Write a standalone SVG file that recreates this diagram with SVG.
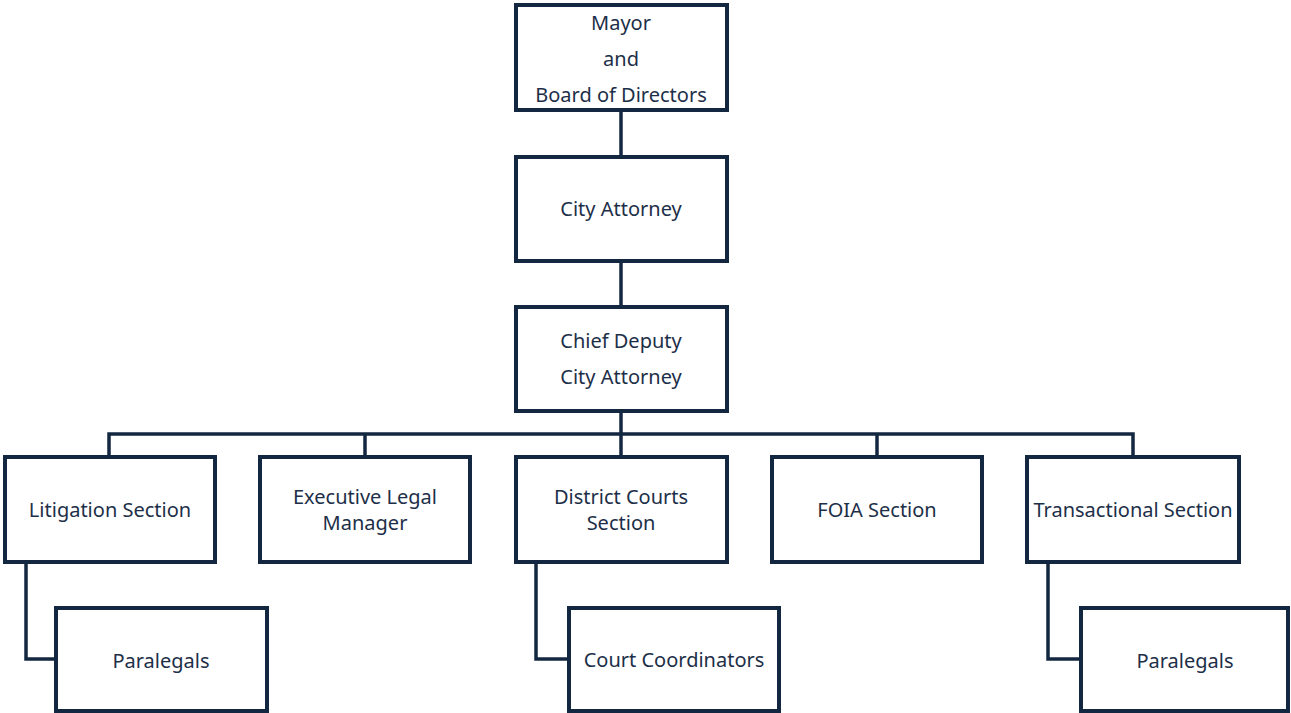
<svg xmlns="http://www.w3.org/2000/svg" width="1291" height="713" viewBox="0 0 1291 713">
  <style>
    .box { fill: #ffffff; stroke: #132840; stroke-width: 4; }
    .wire { fill: none; stroke: #132840; stroke-width: 3.5; }
    .lbl { font-family: "Noto Sans", "Liberation Sans", sans-serif; font-size: 20px; fill: #1d2f48; text-anchor: middle; dominant-baseline: central; }
  </style>
  <rect width="1291" height="713" fill="#ffffff"/>

  <!-- connectors -->
  <g id="connectors">
    <line class="wire" x1="621" y1="110" x2="621" y2="157"/>
    <line class="wire" x1="621" y1="261" x2="621" y2="307"/>
    <line class="wire" x1="621" y1="411" x2="621" y2="457"/>
    <polyline class="wire" points="109,457 109,434 1133,434 1133,457"/>
    <line class="wire" x1="365" y1="434" x2="365" y2="457"/>
    <line class="wire" x1="877" y1="434" x2="877" y2="457"/>
    <polyline class="wire" points="26,562 26,659 56,659"/>
    <polyline class="wire" points="536,562 536,659 569,659"/>
    <polyline class="wire" points="1048,562 1048,659 1081,659"/>
  </g>

  <g id="mayor">
    <rect class="box" x="516" y="5" width="211" height="105"/>
    <text class="lbl" x="621" y="22">Mayor</text>
    <text class="lbl" x="621" y="58">and</text>
    <text class="lbl" x="621" y="94">Board of Directors</text>
  </g>
  <g id="city-attorney">
    <rect class="box" x="516" y="157" width="211" height="104"/>
    <text class="lbl" x="621" y="208">City Attorney</text>
  </g>
  <g id="chief-deputy">
    <rect class="box" x="516" y="307" width="211" height="104"/>
    <text class="lbl" x="621" y="340">Chief Deputy</text>
    <text class="lbl" x="621" y="376">City Attorney</text>
  </g>
  <g id="litigation">
    <rect class="box" x="5" y="457" width="210" height="105"/>
    <text class="lbl" x="110" y="509">Litigation Section</text>
  </g>
  <g id="executive-legal">
    <rect class="box" x="260" y="457" width="210" height="105"/>
    <text class="lbl" x="365" y="496">Executive Legal</text>
    <text class="lbl" x="365" y="522">Manager</text>
  </g>
  <g id="district-courts">
    <rect class="box" x="516" y="457" width="211" height="105"/>
    <text class="lbl" x="621" y="496">District Courts</text>
    <text class="lbl" x="621" y="522">Section</text>
  </g>
  <g id="foia">
    <rect class="box" x="772" y="457" width="210" height="105"/>
    <text class="lbl" x="877" y="509">FOIA Section</text>
  </g>
  <g id="transactional">
    <rect class="box" x="1027" y="457" width="212" height="105"/>
    <text class="lbl" x="1133" y="509">Transactional Section</text>
  </g>
  <g id="paralegals-litigation">
    <rect class="box" x="56" y="608" width="211" height="103"/>
    <text class="lbl" x="161" y="660">Paralegals</text>
  </g>
  <g id="court-coordinators">
    <rect class="box" x="569" y="608" width="210" height="103"/>
    <text class="lbl" x="674" y="659">Court Coordinators</text>
  </g>
  <g id="paralegals-transactional">
    <rect class="box" x="1081" y="608" width="207" height="103"/>
    <text class="lbl" x="1185" y="660">Paralegals</text>
  </g>
</svg>
